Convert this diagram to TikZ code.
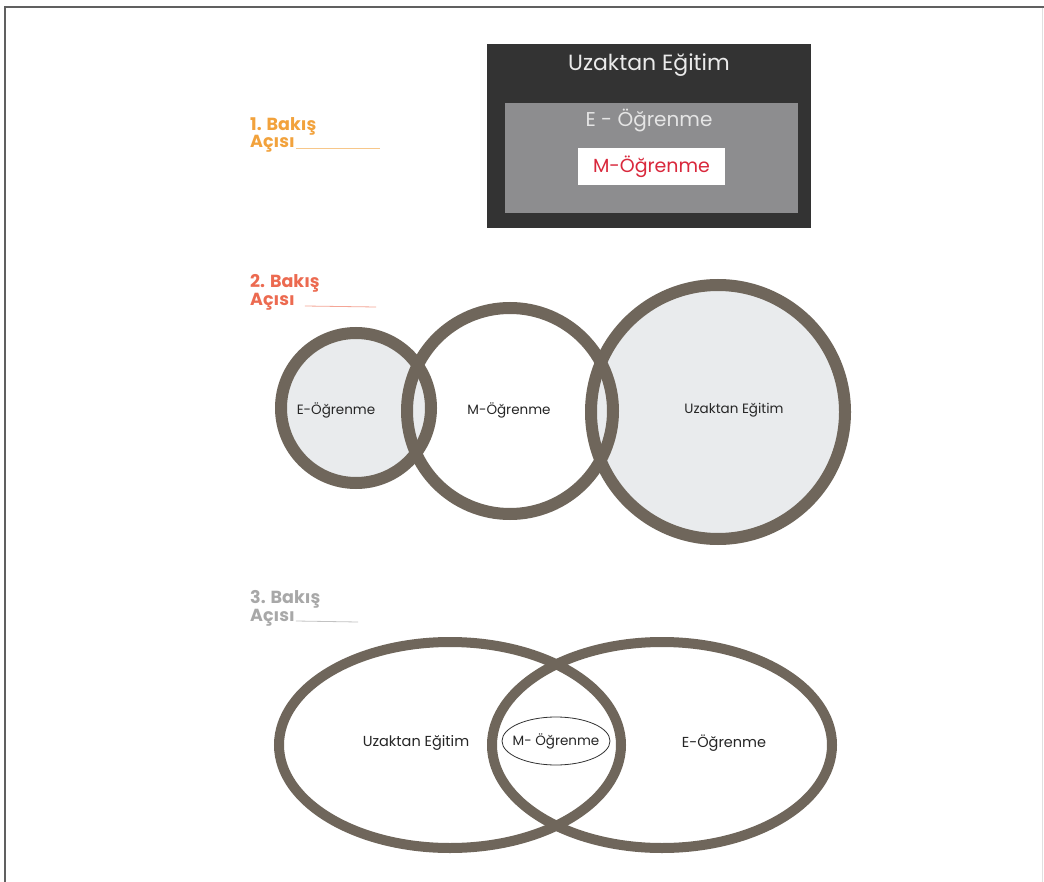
\documentclass[tikz,border=0pt]{standalone}
\usepackage{fontspec}
\usetikzlibrary{shapes.geometric}
\setmainfont{Poppins}
\definecolor{ringc}{HTML}{6F665B}
\definecolor{lightf}{HTML}{E9EBED}
\definecolor{darkbox}{HTML}{333333}
\definecolor{graybox}{HTML}{8D8D8F}
\definecolor{redtxt}{HTML}{D9283C}
\definecolor{orange1}{HTML}{F2A23C}
\definecolor{orange2}{HTML}{EC6A50}
\definecolor{gray3}{HTML}{A8A8A8}
\definecolor{framec}{HTML}{606060}
\begin{document}
\begin{tikzpicture}[x=1pt,y=-1pt,
  ring/.style={draw=ringc,line width=12pt},
  ringb/.style={draw=ringc,line width=10pt},
  smalltxt/.style={font=\fontsize{13.5}{15}\selectfont,text=black!85},
  midtxt/.style={font=\fontsize{14.5}{16}\selectfont,text=black!85},
  headtxt/.style={font=\fontsize{17.5}{17}\selectfont\bfseries,anchor=base west,inner sep=0pt},
  uline/.style={line width=0.8pt}]
\useasboundingbox (0,0) rectangle (1044,882);
\fill[white] (0,0) rectangle (1044,882);
% frame
\draw[framec,line width=2pt] (5,882) -- (5,7) -- (1044,7);
\draw[black!12,line width=1pt] (1042,8) -- (1042,882);

% ---------- 1. Bakış Açısı
\node[headtxt,text=orange1] (h1) at (250,131) {1. Bakış};
\node[headtxt,text=orange1] (h1b) at (250,148) {Açısı};
\coordinate (h1s) at ([xshift=1pt]h1b.base east);
\coordinate (h1e) at (380,148);
\draw[orange1!60,uline] (h1s) -- (h1e);

\node[fill=darkbox,minimum width=324pt,minimum height=184pt,inner sep=0pt] (outer) at (649,136) {};
\node[fill=graybox,minimum width=293pt,minimum height=110pt,inner sep=0pt] (inner) at (651.5,158) {};
\node[text=white!92!black,font=\fontsize{22}{22}\selectfont] (tU) at (649,65) {Uzaktan Eğitim};
\node[text=white!90!black,font=\fontsize{20}{20}\selectfont] (tE) at (649,120) {E - Öğrenme};
\node[fill=white,text=redtxt,font=\fontsize{19}{19}\selectfont,minimum width=147pt,minimum height=37pt,inner sep=0pt] (tM) at (651.5,167) {M-Öğrenme};

% ---------- 2. Bakış Açısı
\node[headtxt,text=orange2] (h2) at (250,288) {2. Bakış};
\node[headtxt,text=orange2] (h2b) at (250,306) {Açısı};
\coordinate (h2s) at ([xshift=10pt]h2b.base east);
\coordinate (h2e) at (376,307);
\draw[orange2!60,uline] (h2s) -- (h2e);

\coordinate (cM) at (510,411);
\coordinate (cE) at (356,408);
\coordinate (cU) at (718,412);
\fill[white] (cM) circle (103);
\fill[lightf] (cE) circle (75);
\fill[lightf] (cU) circle (127);
\draw[ring] (cM) circle (103);
\draw[ring] (cE) circle (75);
\draw[ring] (cU) circle (127);
\node[smalltxt] (lE) at (336,410) {E-Öğrenme};
\node[smalltxt] (lM) at (509,410) {M-Öğrenme};
\node[smalltxt] (lU) at (734,410) {Uzaktan Eğitim};

% ---------- 3. Bakış Açısı
\node[headtxt,text=gray3] (h3) at (250,603) {3. Bakış};
\node[headtxt,text=gray3] (h3b) at (250,621) {Açısı};
\coordinate (h3s) at ([xshift=1pt]h3b.base east);
\coordinate (h3e) at (358,622);
\draw[gray3!70,uline] (h3s) -- (h3e);

\coordinate (eL) at (450,745);
\coordinate (eR) at (662,745);
\draw[ringb] (eL) ellipse [x radius=171, y radius=103];
\draw[ringb] (eR) ellipse [x radius=170, y radius=103];
\node[midtxt] (lU3) at (416,743) {Uzaktan Eğitim};
\node[midtxt] (lE3) at (724,743) {E-Öğrenme};
\node[draw=black!80,line width=0.8pt,ellipse,minimum width=108pt,minimum height=48pt,inner sep=0pt] (lM3) at (556,741) {};
\node[midtxt,font=\fontsize{13.5}{15}\selectfont] (lM3t) at (lM3.center) {M- Öğrenme};
\end{tikzpicture}
\end{document}
